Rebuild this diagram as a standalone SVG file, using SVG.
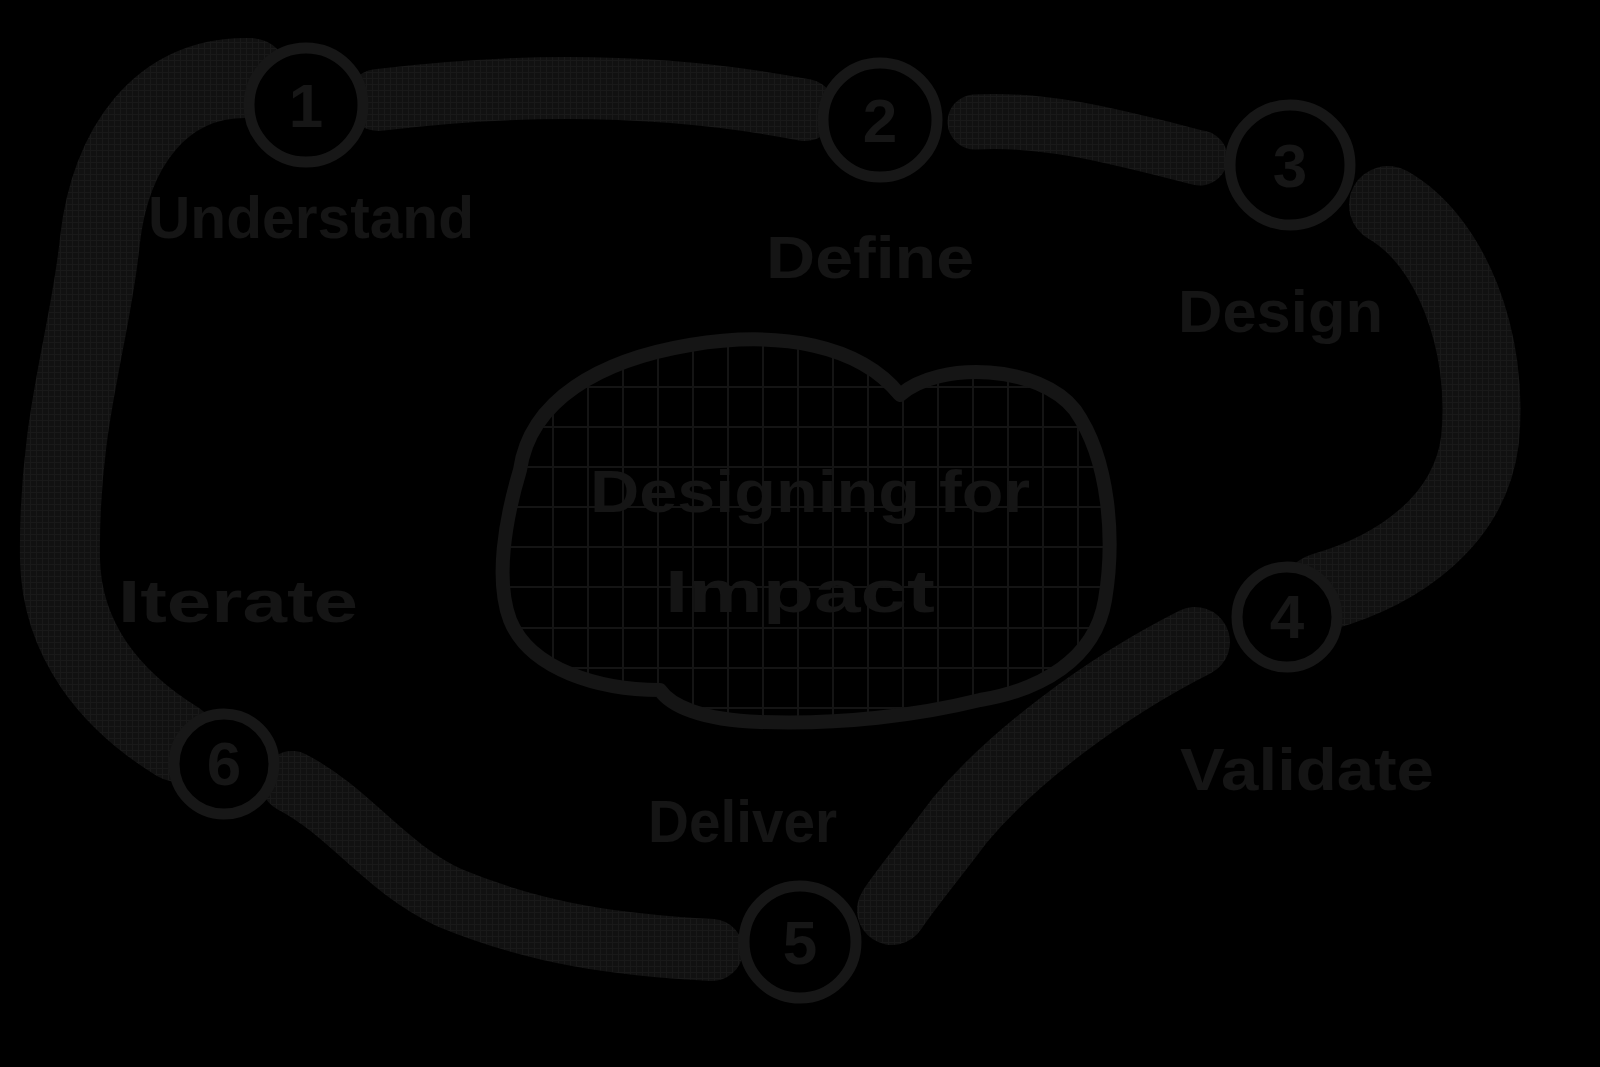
<svg xmlns="http://www.w3.org/2000/svg" width="1600" height="1067" viewBox="0 0 1600 1067">
  <style>
    .band { fill: none; stroke: url(#hatch); stroke-linecap: round; stroke-linejoin: round; }
    .ring { fill: #000; stroke: #171717; stroke-width: 11; }
    .num { font-family: "Liberation Sans", Arial, sans-serif; font-weight: bold; font-size: 62px; fill: #161616; text-anchor: middle; }
    .lbl { font-family: "Liberation Sans", Arial, sans-serif; font-weight: bold; font-size: 60px; fill: #151515; }
    .grid line { stroke: #141414; stroke-width: 2; }
  </style>
  <defs>
    <pattern id="hatch" width="6" height="6" patternUnits="userSpaceOnUse">
      <rect width="6" height="6" fill="#111111"/>
      <path d="M0,0.5 H6 M0.5,0 V6" stroke="#191919" stroke-width="1"/>
    </pattern>
    <clipPath id="cloudClip">
      <path d="M 520,470 C 530,400 600,360 690,345 C 780,330 860,345 900,395 C 940,360 1040,365 1075,410 C 1110,460 1115,540 1105,600 C 1095,660 1040,690 980,700 C 920,715 840,725 760,722 C 700,720 670,705 660,690 C 600,690 530,670 510,620 C 495,580 505,520 520,470 Z"/>
    </clipPath>
  </defs>
  <rect width="1600" height="1067" fill="#000"/>

  <g id="connectors">
    <path class="band" stroke-width="80" d="M 250,78 C 160,75 110,150 100,240 C 90,340 58,420 60,560 C 62,640 110,700 178,742"/>
    <path class="band" stroke-width="62" d="M 378,100 C 500,85 650,80 805,110"/>
    <path class="band" stroke-width="55" d="M 975,122 C 1050,118 1120,138 1200,158"/>
    <path class="band" stroke-width="78" d="M 1388,205 C 1450,240 1490,340 1480,440 C 1470,520 1400,570 1322,592"/>
    <path class="band" stroke-width="70" d="M 1195,642 C 1100,690 1010,760 960,820 C 930,860 905,890 892,910"/>
    <path class="band" stroke-width="62" d="M 292,782 C 350,812 385,868 450,898 C 540,935 620,945 712,950"/>
  </g>

  <g id="center">
    <g class="grid" clip-path="url(#cloudClip)">
      <line x1="553" y1="330" x2="553" y2="740"/>
      <line x1="588" y1="330" x2="588" y2="740"/>
      <line x1="623" y1="330" x2="623" y2="740"/>
      <line x1="658" y1="330" x2="658" y2="740"/>
      <line x1="693" y1="330" x2="693" y2="740"/>
      <line x1="728" y1="330" x2="728" y2="740"/>
      <line x1="763" y1="330" x2="763" y2="740"/>
      <line x1="798" y1="330" x2="798" y2="740"/>
      <line x1="833" y1="330" x2="833" y2="740"/>
      <line x1="868" y1="330" x2="868" y2="740"/>
      <line x1="903" y1="330" x2="903" y2="740"/>
      <line x1="938" y1="330" x2="938" y2="740"/>
      <line x1="973" y1="330" x2="973" y2="740"/>
      <line x1="1008" y1="330" x2="1008" y2="740"/>
      <line x1="1043" y1="330" x2="1043" y2="740"/>
      <line x1="1078" y1="330" x2="1078" y2="740"/>
      <line x1="500" y1="387" x2="1120" y2="387"/>
      <line x1="500" y1="427" x2="1120" y2="427"/>
      <line x1="500" y1="467" x2="1120" y2="467"/>
      <line x1="500" y1="507" x2="1120" y2="507"/>
      <line x1="500" y1="547" x2="1120" y2="547"/>
      <line x1="500" y1="587" x2="1120" y2="587"/>
      <line x1="500" y1="628" x2="1120" y2="628"/>
      <line x1="500" y1="668" x2="1120" y2="668"/>
      <line x1="500" y1="708" x2="1120" y2="708"/>
    </g>
    <path d="M 520,470 C 530,400 600,360 690,345 C 780,330 860,345 900,395 C 940,360 1040,365 1075,410 C 1110,460 1115,540 1105,600 C 1095,660 1040,690 980,700 C 920,715 840,725 760,722 C 700,720 670,705 660,690 C 600,690 530,670 510,620 C 495,580 505,520 520,470 Z" fill="none" stroke="#151515" stroke-width="14" stroke-linejoin="round"/>
    <text class="lbl" x="590" y="512" font-size="74" textLength="440" lengthAdjust="spacingAndGlyphs">Designing for</text>
    <text class="lbl" x="665" y="612" font-size="72" textLength="270" lengthAdjust="spacingAndGlyphs">Impact</text>
  </g>

  <g id="node1">
    <circle class="ring" cx="306" cy="105" r="57"/>
    <text class="num" x="306" y="127">1</text>
    <text class="lbl" x="148" y="238" textLength="326" lengthAdjust="spacingAndGlyphs">Understand</text>
  </g>
  <g id="node2">
    <circle class="ring" cx="880" cy="120" r="57"/>
    <text class="num" x="880" y="142">2</text>
    <text class="lbl" x="766" y="278" textLength="208" lengthAdjust="spacingAndGlyphs">Define</text>
  </g>
  <g id="node3">
    <circle class="ring" cx="1290" cy="165" r="60"/>
    <text class="num" x="1290" y="187">3</text>
    <text class="lbl" x="1178" y="332" textLength="205" lengthAdjust="spacingAndGlyphs">Design</text>
  </g>
  <g id="node4">
    <circle class="ring" cx="1287" cy="617" r="50"/>
    <text class="num" x="1287" y="638">4</text>
    <text class="lbl" x="1180" y="790" textLength="254" lengthAdjust="spacingAndGlyphs">Validate</text>
  </g>
  <g id="node5">
    <circle class="ring" cx="800" cy="942" r="56"/>
    <text class="num" x="800" y="964">5</text>
    <text class="lbl" x="648" y="842" textLength="189" lengthAdjust="spacingAndGlyphs">Deliver</text>
  </g>
  <g id="node6">
    <circle class="ring" cx="224" cy="764" r="50"/>
    <text class="num" x="224" y="785">6</text>
    <text class="lbl" x="118" y="622" textLength="240" lengthAdjust="spacingAndGlyphs">Iterate</text>
  </g>
</svg>
